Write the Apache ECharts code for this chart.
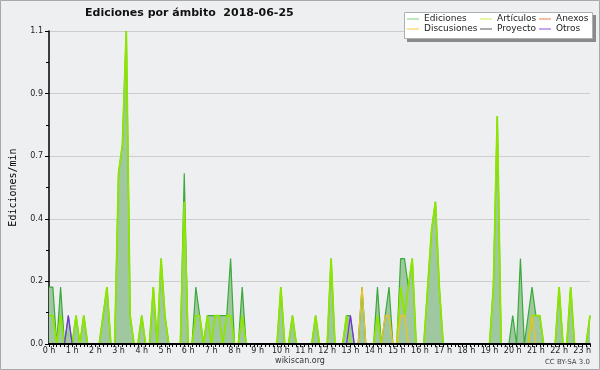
<!DOCTYPE html>
<html><head><meta charset="utf-8">
<script src="https://cdn.jsdelivr.net/npm/echarts@6/dist/echarts.min.js"></script>
<style>html,body{margin:0;padding:0;background:#eeeff1}#c{width:600px;height:370px}</style>
</head><body><div id="c"></div>
<script>
const chartTitle = 'Ediciones por ámbito  2018-06-25';
const yAxisName = 'Ediciones/min';
const footer = 'wikiscan.org';
const license = 'CC BY-SA 3.0';
const seriesNames = ['Ediciones','Artículos','Anexos','Discusiones','Proyecto','Otros'];
const yMin = 0, yMax = 1.1, yStep = 0.22;

// 10-minute slots from 00:00 to 23:20
const times = [];
for (let h = 0; h < 24; h++) for (let m = 0; m < 60; m += 10) if (times.length < 141) times.push(String(h).padStart(2,'0') + ':' + String(m).padStart(2,'0'));

const ediciones = [
  0.2,0.2,0,0.2,0,0.1,0,0.1,0,0.1,0,0,
  0,0,0.1,0.2,0,0,0.6,0.7,1.1,0.1,0,0,
  0.1,0,0,0.2,0,0.3,0.1,0,0,0,0,0.6,
  0,0,0.2,0.1,0,0.1,0.1,0.1,0.1,0.1,0.1,0.3,
  0,0,0.2,0,0,0,0,0,0,0,0,0,
  0.2,0,0,0.1,0,0,0,0,0,0.1,0,0,
  0,0.3,0,0,0,0.1,0.1,0,0,0.2,0,0,
  0,0.2,0,0.1,0.2,0,0,0.3,0.3,0.2,0.3,0,
  0,0,0.2,0.4,0.5,0.2,0,0,0,0,0,0,
  0,0,0,0,0,0,0,0.2,0.8,0,0,0,
  0.1,0,0.3,0,0.1,0.2,0.1,0.1,0,0,0,0,
  0.2,0,0,0.2,0,0,0,0,0.1
];
const articulos = [
  0.1,0.1,0,0.1,0,0,0,0.1,0,0.1,0,0,
  0,0,0.1,0.2,0,0,0.6,0.7,1.1,0.1,0,0,
  0.1,0,0,0.2,0,0.3,0.1,0,0,0,0,0.5,
  0,0,0.1,0.1,0,0.1,0,0.1,0.1,0,0.1,0.1,
  0,0,0.1,0,0,0,0,0,0,0,0,0,
  0.2,0,0,0.1,0,0,0,0,0,0.1,0,0,
  0,0.3,0,0,0,0.1,0,0,0,0,0,0,
  0,0.1,0,0,0,0,0,0.2,0.1,0.2,0.3,0,
  0,0,0.2,0.4,0.5,0.2,0,0,0,0,0,0,
  0,0,0,0,0,0,0,0.2,0.8,0,0,0,
  0,0,0,0,0,0.1,0.1,0.1,0,0,0,0,
  0.2,0,0,0.2,0,0,0,0,0.1
];
const anexos = [
  0,0,0,0,0,0,0,0,0,0,0,0, 0,0,0,0,0,0,0,0,0,0,0,0,
  0,0,0,0,0,0,0,0,0,0,0,0, 0,0,0,0,0,0,0,0,0,0,0,0,
  0,0,0,0,0,0,0,0,0,0,0,0, 0,0,0,0,0,0,0,0,0,0,0,0,
  0,0,0,0,0,0,0,0,0,0,0,0, 0,0,0,0,0,0,0,0,0,0,0,0,
  0,0,0,0,0,0,0,0,0,0,0,0, 0,0,0,0,0,0,0,0,0,0,0,0,
  0,0,0,0,0,0,0,0,0,0,0,0, 0,0,0,0,0,0,0,0,0
];
const discusiones = [
  0,0,0,0,0,0,0,0,0,0,0,0, 0,0,0,0,0,0,0,0,0,0,0,0,
  0,0,0,0,0,0,0,0,0,0,0,0, 0,0,0,0,0,0,0,0,0,0,0,0,
  0,0,0,0,0,0,0,0,0,0,0,0, 0,0,0,0,0,0,0,0,0,0,0,0,
  0,0,0,0,0,0,0,0,0,0.2,0,0,
  0,0,0,0.1,0.1,0,0,0.1,0.1,0,0,0,
  0,0,0,0,0,0,0,0,0,0,0,0, 0,0,0,0,0,0,0,0,0,0,0,0,
  0,0,0,0,0,0.1,0,0,0,0,0,0,
  0,0,0,0,0,0,0,0,0
];
const proyecto = [
  0,0,0,0,0,0,0,0,0,0,0,0, 0,0,0,0,0,0,0,0,0,0,0,0,
  0,0,0,0,0,0,0,0,0,0,0,0, 0,0,0,0,0,0,0,0,0,0,0,0,
  0,0,0,0,0,0,0,0,0,0,0,0, 0,0,0,0,0,0,0,0,0,0,0,0,
  0,0,0,0,0,0,0,0,0,0,0,0, 0,0,0,0,0,0,0,0,0,0,0,0,
  0,0,0,0,0,0,0,0,0,0,0,0, 0,0,0,0,0,0,0,0,0,0,0,0,
  0,0,0,0,0,0,0,0,0,0,0,0, 0,0,0,0,0,0,0,0,0
];
const otros = [
  0,0,0,0,0,0.1,0,0,0,0,0,0, 0,0,0,0,0,0,0,0,0,0,0,0,
  0,0,0,0,0,0,0,0,0,0,0,0, 0,0,0,0,0,0,0,0,0,0,0,0,
  0,0,0,0,0,0,0,0,0,0,0,0, 0,0,0,0,0,0,0,0,0,0,0,0,
  0,0,0,0,0,0,0.1,0,0,0,0,0,
  0,0,0,0,0,0,0,0,0,0,0,0, 0,0,0,0,0,0,0,0,0,0,0,0,
  0,0,0,0,0,0,0,0,0,0,0,0, 0,0,0,0,0,0,0,0,0,0,0,0,
  0,0,0,0,0,0,0,0,0
];

const FONT = 'DejaVu Sans';
const chart = echarts.init(document.getElementById('c'), null, {renderer: 'canvas'});

function lineSeries(name, data, color, width, z, extra) {
  return Object.assign({
    name, type: 'line', data, symbol: 'none', smooth: false, z,
    lineStyle: {color, width}, itemStyle: {color}, emphasis: {disabled: true}, animation: false
  }, extra || {});
}

const legendBase = {
  orient: 'vertical', top: 14, padding: 0, itemGap: 0, itemWidth: 12, itemHeight: 1,
  icon: 'rect', selectedMode: false, z: 20,
  textStyle: {fontFamily: FONT, fontSize: 9, color: '#222', lineHeight: 10, padding: [0,0,0,0]}
};
const legendColors = {
  'Ediciones': '#7fcf7f', 'Artículos': '#c6ee4a', 'Anexos': '#f07a4a',
  'Discusiones': '#f7c83a', 'Proyecto': '#555555', 'Otros': '#8a4aee'
};
function lg(names, left) {
  return Object.assign({}, legendBase, {
    left, data: names.map(n => ({name: n, itemStyle: {color: legendColors[n]}}))
  });
}

chart.setOption({
  animation: false,
  backgroundColor: '#eeeff1',
  title: {
    text: chartTitle, left: 85, top: 8, padding: 0,
    textStyle: {fontFamily: FONT, fontWeight: 'bold', fontSize: 11, color: '#111'}
  },
  legend: [
    lg([seriesNames[0], seriesNames[3]], 407),
    lg([seriesNames[1], seriesNames[4]], 480),
    lg([seriesNames[2], seriesNames[5]], 539)
  ],
  grid: {left: 46, right: 10, top: 31, bottom: 26, containLabel: false},
  xAxis: {
    type: 'category', data: times, boundaryGap: false, z: 10,
    axisLine: {show: true, lineStyle: {color: '#000', width: 2}},
    axisTick: {show: true, interval: 0, length: 3, lineStyle: {color: '#000', width: 1}},
    axisLabel: {interval: 5, margin: 3, fontFamily: FONT, fontSize: 8, color: '#222',
      formatter: v => parseInt(v.slice(0,2), 10) + ' h'},
    splitLine: {show: false}
  },
  yAxis: {
    type: 'value', min: yMin, max: yMax, interval: yStep,
    name: yAxisName, nameLocation: 'middle', nameGap: 31,
    nameTextStyle: {fontFamily: 'DejaVu Sans Mono', fontSize: 10, color: '#000'},
    axisLine: {show: true, lineStyle: {color: '#000', width: 1.5}},
    axisTick: {show: true, length: 4, lineStyle: {color: '#000'}},
    minorTick: {show: true, splitNumber: 2, length: 3, lineStyle: {color: '#000'}},
    splitLine: {show: true, lineStyle: {color: '#cdcdcd', width: 1}},
    axisLabel: {margin: 6, fontFamily: FONT, fontSize: 8, color: '#222', formatter: v => v.toFixed(1)}
  },
  series: [
    lineSeries('Ediciones', ediciones, '#3aaa3a', 1.2, 2, {areaStyle: {color: '#a0c8a0', opacity: 1}}),
    lineSeries('Anexos', anexos, '#f07a4a', 1.2, 3),
    lineSeries('Proyecto', proyecto, '#555555', 1.2, 3),
    lineSeries('Artículos', articulos, '#8ee600', 1.8, 4),
    lineSeries('Discusiones', discusiones, '#f2c21a', 1.2, 5),
    lineSeries('Otros', otros, '#7a2ee8', 1.2, 6)
  ],
  graphic: [
    {type: 'rect', z: 0, silent: true, shape: {x: 0.5, y: 0.5, width: 599, height: 369},
      style: {fill: null, stroke: '#a8a8a8', lineWidth: 1}},
    {type: 'rect', z: 15, silent: true, shape: {x: 407, y: 15, width: 189, height: 27},
      style: {fill: '#8a8a8a'}},
    {type: 'rect', z: 16, silent: true, shape: {x: 404.5, y: 12.5, width: 188, height: 26},
      style: {fill: '#ffffff', stroke: '#b0b0b0', lineWidth: 1}},
    {type: 'text', z: 16, silent: true, x: 300, y: 361,
      style: {text: footer, fontFamily: FONT, fontSize: 8, fill: '#333', align: 'center', verticalAlign: 'middle'}},
    {type: 'text', z: 16, silent: true, x: 590, y: 362.5,
      style: {text: license, fontFamily: FONT, fontSize: 7, fill: '#444', align: 'right', verticalAlign: 'middle'}}
  ]
});
</script>
</body></html>
